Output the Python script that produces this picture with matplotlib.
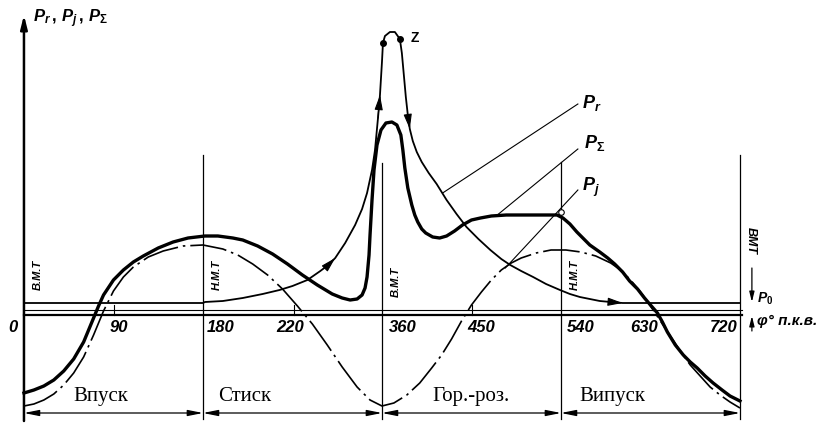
import numpy as np
import matplotlib.pyplot as plt

plt.rcParams['mathtext.fontset'] = 'custom'
plt.rcParams['mathtext.it'] = 'Liberation Sans:italic:bold'
plt.rcParams['mathtext.rm'] = 'Liberation Sans:bold'
plt.rcParams['mathtext.bf'] = 'Liberation Sans:bold'

# gas force P_r (crank angle in degrees, force in arbitrary units)
pr_deg = [0, 180, 182, 200, 220, 240, 257, 270, 285, 298, 306, 313, 323, 333, 340, 345, 350,
          353, 356, 358, 360, 361, 363, 368, 373, 378, 380, 382, 384, 386, 388, 391, 395,
          400, 407, 415, 425, 435, 445, 457, 469, 480, 489, 500, 512, 525, 539, 549, 559,
          569, 579, 590, 602, 720]
pr_val = [12, 12, 13, 14, 17, 21, 25, 29, 35, 44, 50, 57, 72, 90, 106, 122, 145,
          165, 197, 220, 253, 272, 279, 283, 283, 276, 262, 240, 218, 200, 186, 174, 163,
          153, 142, 131, 115, 101, 88, 76, 65, 56, 50, 44, 38, 31, 25, 21, 18,
          16, 14, 13, 12, 12]

# inertia force P_j
pj_deg = [0, 10, 20, 30, 40, 50, 60, 70, 75, 80, 90, 100, 110, 125, 140, 160, 180, 200,
          215, 230, 245, 260, 275, 290, 305, 320, 335, 348, 360, 372, 385, 398, 410, 420,
          430, 440, 450, 460, 470, 480, 490, 500, 515, 530, 545, 560, 575, 590, 600, 610,
          620, 630, 640, 650, 660, 670, 680, 690, 700, 710, 720]
pj_val = [-91, -89, -85, -79, -70, -58, -42, -20, -8, 4, 24, 38, 48, 58, 64, 69, 70, 66,
          60, 51, 40, 26, 9, -9, -30, -52, -72, -85, -91, -88, -80, -68, -53, -40,
          -24, -6, 10, 23, 35, 45, 52, 57, 62, 65, 65, 63, 59, 52, 45, 35,
          23, 9, -6, -21, -36, -50, -61, -72, -80, -87, -93]

# total force P_sigma
ps_deg = [0, 10, 20, 30, 40, 50, 60, 65, 70, 75, 80, 90, 100, 110, 120, 135, 150, 165,
          182, 195, 210, 220, 235, 250, 265, 280, 295, 310, 320, 328, 335, 340, 343, 345,
          347, 348, 350, 352, 355, 359, 364, 370, 375, 379, 381, 383, 386, 390, 393, 396,
          400, 404, 411, 418, 425, 433, 441, 450, 459, 470, 485, 536, 542, 549, 556, 562,
          569, 579, 587, 594, 602, 609, 617, 624, 630, 637, 642, 647, 655, 663, 670, 677,
          685, 693, 702, 710, 720]
ps_val = [-78, -75, -71, -65, -56, -44, -27, -15, -3, 9, 20, 35, 45, 53, 59, 67, 73, 77,
          79, 79, 77, 75, 69, 61, 51, 40, 30, 21, 17, 15, 16, 20, 27, 38,
          60, 80, 115, 145, 170, 185, 192, 193, 190, 180, 165, 147, 127, 110, 100, 93,
          86, 82, 78, 77, 79, 84, 90, 95, 97, 99, 100, 100, 97, 91, 83, 77,
          70, 63, 57, 51, 43, 34, 26, 17, 10, 2, -7, -17, -30, -40, -47, -53,
          -61, -68, -75, -81, -86]

tick_text = ['0', '90', '180', '220', '360', '450', '540', '630', '720']
tick_x = [-11, 95, 198, 268, 381, 460, 560, 624, 704]
minor_ticks = [91, 272, 451]

tdc_deg = [0, 180, 360, 540, 720]
tdc_text = ['В.М.Т', 'Н.М.Т', 'В.М.Т', 'Н.М.Т']

strokes = ['Впуск', 'Стиск', 'Гор.-роз.', 'Випуск']
stroke_x = [77, 222, 450, 592]

pr_deg = np.array(pr_deg); pr_val = np.array(pr_val)

fig = plt.figure(figsize=(8.23, 4.23), dpi=100)
ax = fig.add_axes([0, 0, 1, 1])
ax.set_xlim(-24.1, 803.5)
ax.set_ylim(-108, 315)
ax.axis('off')

k = 'black'
# abscissa lines
ax.plot([0, 722], [0, 0], color=k, lw=1.6)
ax.plot([0, 722], [5, 5], color=k, lw=0.8)
for d in minor_ticks:
    ax.plot([d, d], [0, 10], color=k, lw=0.8)

# ordinate with arrow
ax.annotate('', xy=(0, 300), xytext=(0, -106),
            arrowprops=dict(arrowstyle='-|>,head_length=0.8,head_width=0.2', color=k, lw=1.8,
                            shrinkA=0, shrinkB=0))
ax.text(9, 296, r'$P_r\,,\,P_j\,,\,P_\Sigma$', fontsize=12, va='center', ha='left')

# dead centre lines
for d, top in zip(tdc_deg[1:], [160, 152, 153, 160]):
    ax.plot([d, d], [-104, top], color=k, lw=0.9)
for d, t, v in zip(tdc_deg[:4], tdc_text, [40, 40, 33, 40]):
    ax.text(d + 14, v, t, rotation=90, fontsize=8, fontweight='bold', style='italic',
            family='Liberation Sans', ha='center', va='center')
ax.text(731, 75, 'ВМТ', rotation=-90, fontsize=9, fontweight='bold', style='italic',
        family='Liberation Sans', ha='center', va='center')

# curves
ax.plot(pr_deg, pr_val, color=k, lw=1.3, solid_capstyle='round')
ax.plot(pj_deg, pj_val, color=k, lw=1.2, dashes=(22, 3, 1.5, 3))
ax.plot(ps_deg, ps_val, color=k, lw=2.4, solid_joinstyle='round')

# direction arrows along P_r
for i in [11, 19, 30, 52]:
    ax.annotate('', xy=(pr_deg[i], pr_val[i]), xytext=(pr_deg[i - 1], pr_val[i - 1]),
                arrowprops=dict(arrowstyle='-|>,head_length=0.9,head_width=0.25', color=k,
                                lw=0.8, shrinkA=0, shrinkB=0))
zi = [21, 25]
ax.plot(pr_deg[zi], pr_val[zi], 'o', color=k, ms=4)
ax.text(389, 277, 'Z', fontsize=10, fontweight='bold', family='Liberation Sans', va='center')

# leader lines and curve names
ax.plot([421, 557], [122, 211], color=k, lw=0.8)
ax.plot([476, 557], [100, 166], color=k, lw=0.8)
ax.plot([484, 557], [47, 125], color=k, lw=0.8)
ax.plot([540], [103], 'o', mfc='white', mec=k, ms=4, mew=0.8)
ax.text(561, 212, r'$P_r$', fontsize=13, va='center', ha='left')
ax.text(563, 172, r'$P_\Sigma$', fontsize=13, va='center', ha='left')
ax.text(561, 128, r'$P_j$', fontsize=13, va='center', ha='left')

# P0 and phi markers on the right
ax.annotate('', xy=(732, 13), xytext=(732, 47),
            arrowprops=dict(arrowstyle='-|>,head_length=0.6,head_width=0.15', color=k, lw=0.9,
                            shrinkA=0, shrinkB=0))
ax.annotate('', xy=(732, -1), xytext=(732, -16),
            arrowprops=dict(arrowstyle='-|>,head_length=0.6,head_width=0.15', color=k, lw=0.9,
                            shrinkA=0, shrinkB=0))
ax.text(737, 16, r'$P_0$', fontsize=10, va='center', ha='left')
ax.text(737, -6, 'φ° п.к.в.', fontsize=11, fontweight='bold', style='italic',
        family='Liberation Sans', va='center', ha='left')

# angle labels
for x, t in zip(tick_x, tick_text):
    ax.text(x, -12, t, fontsize=12, fontweight='bold', style='italic',
            family='Liberation Sans', ha='center', va='center')

# strokes
for a, b in zip(tdc_deg[:-1], tdc_deg[1:]):
    ax.annotate('', xy=(b, -98), xytext=(a, -98),
                arrowprops=dict(arrowstyle='<|-|>,head_length=0.9,head_width=0.18', color=k,
                                lw=0.9, shrinkA=0, shrinkB=0))
for x, t in zip(stroke_x, strokes):
    ax.text(x, -81, t, fontsize=15, family='Liberation Serif', ha='center', va='center')

plt.savefig('out.png', dpi=100)
